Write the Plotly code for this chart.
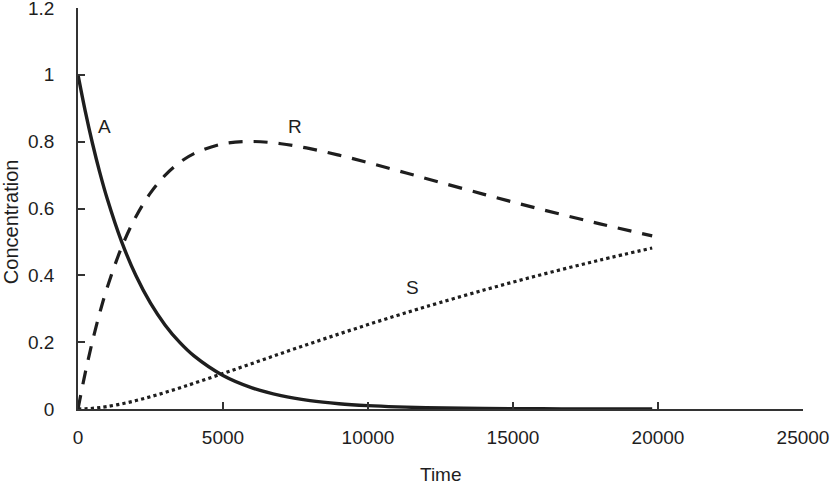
import plotly.graph_objects as go

time = [0, 250, 500, 750, 1000, 1500, 2000, 2500, 3000, 3500, 4000, 5000, 6000,
        7000, 8000, 9000, 10000, 11000, 12000, 14000, 16000, 18000, 19800]
conc_A = [1.0, 0.8914, 0.7945, 0.7082, 0.6313, 0.5016, 0.3985, 0.3166, 0.2516, 0.1999,
          0.1588, 0.1003, 0.0633, 0.0400, 0.0252, 0.0159, 0.0101, 0.0064, 0.0040,
          0.0016, 0.0006, 0.0003, 0.0001]
conc_R = [0.0, 0.1081, 0.2035, 0.2875, 0.3614, 0.4831, 0.5762, 0.6466, 0.6990, 0.7372,
          0.7642, 0.7934, 0.8005, 0.7938, 0.7791, 0.7596, 0.7373, 0.7138, 0.6899,
          0.6423, 0.5969, 0.5540, 0.5181]
conc_S = [0.0, 0.0005, 0.0020, 0.0043, 0.0073, 0.0153, 0.0253, 0.0368, 0.0494, 0.0629,
          0.0770, 0.1063, 0.1362, 0.1662, 0.1957, 0.2245, 0.2526, 0.2798, 0.3061,
          0.3561, 0.4025, 0.4457, 0.4818]

x_ticks = [0, 5000, 10000, 15000, 20000, 25000]
y_ticks = [0, 0.2, 0.4, 0.6, 0.8, 1.0, 1.2]
y_tick_labels = ["0", "0.2", "0.4", "0.6", "0.8", "1", "1.2"]

series_labels = [("A", 930, 0.845), ("R", 7480, 0.845), ("S", 11550, 0.365)]

ink = "#1e1e1e"
font_family = "Liberation Sans, Arial, Helvetica, sans-serif"
fsize = 19

fig = go.Figure()
fig.add_trace(go.Scatter(x=time, y=conc_A, mode="lines", line=dict(color=ink, width=3.4, shape="spline"), name="A", cliponaxis=False))
fig.add_trace(go.Scatter(x=time, y=conc_R, mode="lines", line=dict(color=ink, width=3.2, dash="14px,11px", shape="spline"), name="R", cliponaxis=False))
fig.add_trace(go.Scatter(x=time, y=conc_S, mode="lines", line=dict(color=ink, width=3.2, dash="dot", shape="spline"), name="S", cliponaxis=False))

for txt, xx, yy in series_labels:
    fig.add_annotation(x=xx, y=yy, text=txt, showarrow=False,
                       font=dict(family=font_family, size=fsize, color=ink))

fig.add_annotation(x=0.5, y=-0.163, xref="paper", yref="paper", text="Time", showarrow=False,
                   xanchor="center", yanchor="middle", font=dict(family=font_family, size=fsize, color=ink))
fig.add_annotation(x=-0.0924, y=0.466, xref="paper", yref="paper", text="Concentration", showarrow=False,
                   textangle=-90, xanchor="center", yanchor="middle", font=dict(family=font_family, size=20, color=ink))

axis_common = dict(showgrid=False, zeroline=False, showline=True, linecolor="#333333", linewidth=1.5,
                   ticks="inside", ticklen=7, tickwidth=1.5, tickcolor="#333333", automargin=False,
                   ticklabeloverflow="allow",
                   tickfont=dict(family=font_family, size=fsize, color=ink))

fig.update_xaxes(range=[0, 25000], tickvals=x_ticks, ticktext=[str(v) for v in x_ticks],
                 ticklabelstandoff=10, **axis_common)
fig.update_yaxes(range=[0, 1.2], tickvals=y_ticks, ticktext=y_tick_labels,
                 ticklabelstandoff=18, **axis_common)

fig.update_layout(width=830, height=483, margin=dict(l=78, r=27, t=8, b=74),
                  plot_bgcolor="white", paper_bgcolor="white", showlegend=False)

fig.write_html("out.html", config={"displayModeBar": False},
               post_script="document.body.style.margin='0px';")
